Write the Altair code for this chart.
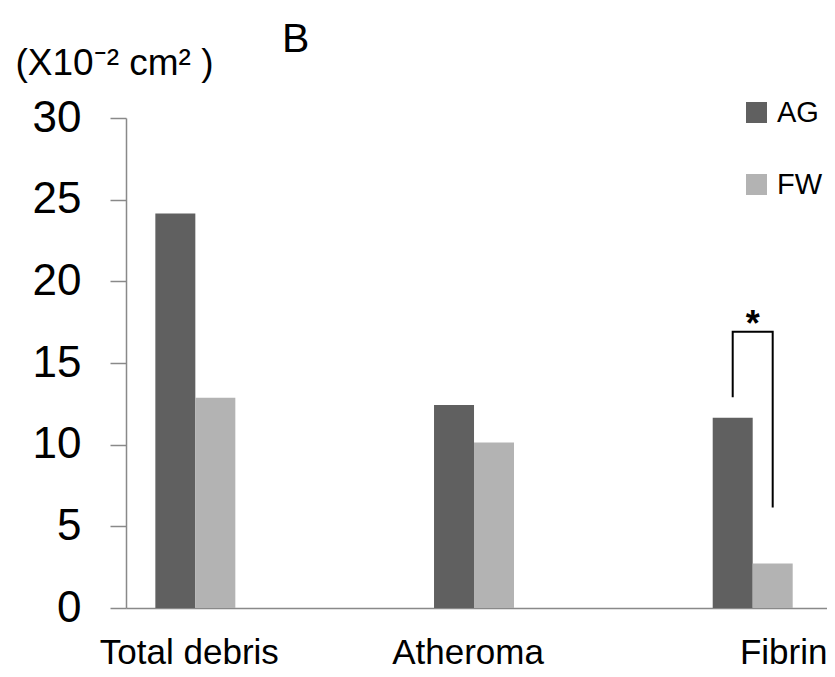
import altair as alt
import pandas as pd

# ---- data ----
categories = ["Total debris", "Atheroma", "Fibrin"]
groups = ["AG", "FW"]
ag_values = [24.15, 12.43, 11.65]
fw_values = [12.88, 10.14, 2.72]
y_ticks = [0, 5, 10, 15, 20, 25, 30]

# significance bracket (Fibrin: AG vs FW)
bracket_cat = ["Fibrin", "Fibrin", "Fibrin", "Fibrin"]
bracket_grp = ["AG", "AG", "FW", "FW"]
bracket_val = [12.9, 16.92, 16.92, 6.16]
bracket_order = [0, 1, 2, 3]
star_cat = ["Fibrin"]
star_val = [16.92]
star_text = ["*"]

FONT = "Liberation Sans"
AXIS_GRAY = "#898989"

bars = pd.DataFrame({
    "cat": categories * 2,
    "grp": ["AG"] * 3 + ["FW"] * 3,
    "val": ag_values + fw_values,
})
bracket = pd.DataFrame({"cat": bracket_cat, "grp": bracket_grp,
                        "val": bracket_val, "o": bracket_order})
star = pd.DataFrame({"cat": star_cat, "val": star_val, "t": star_text})

x_enc = alt.X(
    "cat:N", sort=categories,
    scale=alt.Scale(paddingInner=0.713, paddingOuter=0.1142, align=0.461),
    axis=alt.Axis(
        title=None, labelAngle=0, labelFontSize=35, labelFont=FONT,
        labelColor="black", labelPadding=27, ticks=False,
        domainColor=AXIS_GRAY, domainWidth=1.5,
        labelOffset={"condition": {"test": "datum.value === 'Fibrin'", "value": 31},
                     "value": -6},
    ),
)
y_enc = alt.Y(
    "val:Q",
    scale=alt.Scale(domain=[0, 30], nice=False),
    axis=alt.Axis(
        values=y_ticks, grid=False, tickSize=16, tickColor=AXIS_GRAY, tickWidth=1.5,
        domainColor=AXIS_GRAY, domainWidth=1.5, labelFontSize=44, labelFont=FONT,
        labelColor="black", labelPadding=29,
        title="(X10⁻² cm² )", titleAngle=0, titleAlign="left",
        titleBaseline="alphabetic", titleX=-111, titleY=-44, titleFontSize=37,
        titleFontWeight="normal", titleFont=FONT, titleColor="black",
    ),
)

bar_layer = alt.Chart(bars).mark_bar().encode(
    x=x_enc,
    xOffset=alt.XOffset("grp:N", sort=groups, scale=alt.Scale(paddingInner=0, paddingOuter=0)),
    y=y_enc,
    color=alt.Color(
        "grp:N", sort=groups,
        scale=alt.Scale(domain=groups, range=["#606060", "#b3b3b3"]),
        legend=alt.Legend(
            title=None, orient="none", legendX=616, legendY=-20,
            symbolType="square", symbolSize=441, symbolStrokeWidth=0,
            labelFontSize=29, labelFont=FONT, labelColor="black",
            labelOffset=6, rowPadding=42, padding=0,
        ),
    ),
)

bracket_layer = alt.Chart(bracket).mark_line(color="black", strokeWidth=2).encode(
    x=alt.X("cat:N", sort=categories),
    xOffset=alt.XOffset("grp:N", sort=groups),
    y=alt.Y("val:Q"),
    order=alt.Order("o:Q"),
)

star_layer = alt.Chart(star).mark_text(
    font=FONT, fontSize=36, fontWeight="bold", color="black", baseline="alphabetic", dy=4
).encode(
    x=alt.X("cat:N", sort=categories),
    y=alt.Y("val:Q"),
    text="t:N",
)

chart = alt.layer(bar_layer, bracket_layer, star_layer).properties(
    width=701, height=490,
    title=alt.TitleParams("B", anchor="start", frame="group", dx=156, dy=53,
                          fontSize=41, fontWeight="normal",
                          font=FONT, color="black", baseline="alphabetic"),
    autosize=alt.AutoSizeParams(type="none"),
    padding={"left": 118, "top": 110, "right": 0, "bottom": 61},
).configure(background="white").configure_view(stroke=None)

chart.save("out.html", embed_options={"renderer": "svg", "actions": False})
